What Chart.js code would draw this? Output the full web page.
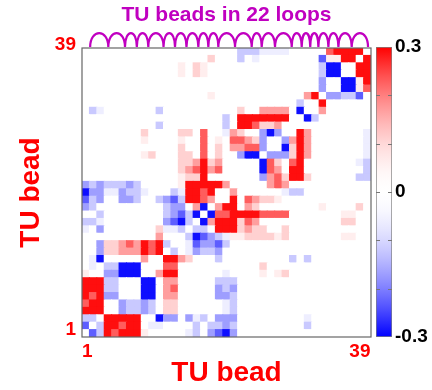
<!DOCTYPE html>
<html>
<head>
<meta charset="utf-8">
<script src="https://cdn.jsdelivr.net/npm/chart.js@4.4.1/dist/chart.umd.min.js"></script>
<style>
  html, body { margin: 0; padding: 0; background: #fff; }
  #wrap { position: relative; width: 432px; height: 390px; overflow: hidden; }
  #heat { position: absolute; left: 0; top: 0; }
  #bar { position: absolute; left: 372px; top: 0; }
</style>
</head>
<body>
<div id="wrap">
  <canvas id="heat" width="432" height="390"></canvas>
  <canvas id="bar" width="60" height="390"></canvas>
</div>
<script>
const titleText = 'TU beads in 22 loops';
const axisText = 'TU bead';
const xTickText = ['1', '39'];
const yTickText = ['1', '39'];
const barTickText = ['-0.3', '0', '0.3'];
const barMinorTicks = [0.2, 0.1, 0, -0.1, -0.2];
const barRange = [-0.3, 0.3];

// bead positions where the loops drawn above the map start/end
const loopEdges = [1.6, 4.05, 6.3, 7.9, 9.45, 11.5, 13.05, 14.6, 16.2, 17.55, 18.9,
  21.15, 23.4, 24.75, 26.55, 28.8, 30.15, 31.3, 32.4, 33.75, 35.1, 36.9, 39.1];

// [bead a, bead b, correlation] (symmetric, unlisted = 0)
const pairs = [
  [1,2,-0.23],[1,3,-0.12],[2,3,-0.12],
  [1,4,0.29],[1,5,0.23],[1,6,0.29],[1,7,0.29],[1,8,0.29],
  [2,4,0.29],[2,5,0.29],[2,6,0.23],[2,7,0.29],[2,8,0.29],
  [3,4,0.29],[3,5,0.29],[3,6,0.29],[3,7,0.29],[3,8,0.29],
  [1,9,0.06],[2,10,-0.06],[2,11,-0.06],
  [3,11,-0.29],[3,12,-0.17],[3,13,-0.17],
  [4,6,-0.17],[5,6,-0.17],[4,7,-0.12],[5,7,-0.12],[4,8,-0.12],[5,8,-0.12],
  [4,9,-0.17],[5,9,-0.17],[4,10,-0.12],[5,10,-0.12],
  [6,9,-0.29],[7,9,-0.29],[8,9,-0.29],[6,10,-0.29],[7,10,-0.29],[8,10,-0.29],
  [4,12,0.11],[5,12,0.11],[6,12,0.17],[7,12,0.17],[8,12,0.17],
  [4,13,0.11],[5,13,0.11],[6,13,0.17],[7,13,0.23],[8,13,0.17],
  [9,11,0.17],[9,12,0.29],[9,13,0.29],[10,12,0.23],[10,13,0.23],[11,12,0.29],[11,13,0.29],[12,13,-0.12],

  [1,15,-0.06],[3,15,-0.17],
  [1,16,-0.12],[2,16,-0.12],[3,16,-0.06],
  [3,17,-0.12],
  [1,18,-0.17],[2,18,-0.12],
  [1,19,-0.23],[2,19,-0.12],[3,19,-0.17],
  [1,20,-0.29],[2,20,-0.17],[3,20,-0.17],
  [1,21,-0.17],[2,21,-0.12],[3,21,-0.17],
  [4,20,-0.06],[5,20,-0.06],[4,21,-0.12],[5,21,-0.12],
  [6,19,-0.17],[7,19,-0.17],[8,19,-0.12],
  [6,20,-0.17],[7,20,-0.12],[8,20,-0.12],
  [6,21,-0.12],[7,21,-0.17],[8,21,-0.12],
  [9,20,-0.06],
  [11,14,0.17],[11,15,0.11],[11,19,-0.12],
  [12,15,-0.06],[12,16,-0.17],[12,17,-0.12],[12,18,-0.12],[12,19,-0.17],
  [13,15,-0.06],[13,16,-0.23],[13,17,-0.17],[13,18,-0.17],[13,19,-0.23],[13,20,-0.12],
  [9,25,0.06],[10,25,0.11],[9,27,0.06],[9,28,0.11],
  [11,29,-0.12],[11,31,-0.12],[2,31,-0.12],[3,31,-0.06],

  [14,15,-0.12],[14,16,-0.29],[14,17,-0.23],[14,18,-0.17],[14,19,-0.12],[14,20,-0.06],
  [14,21,0.06],[14,22,0.06],[14,23,0.11],[14,24,0.11],[14,25,0.11],[14,26,0.11],[14,27,0.06],[14,28,0.11],
  [15,16,-0.12],[15,17,-0.12],
  [15,19,0.29],[15,20,0.29],[15,21,0.29],[15,22,0.11],[15,23,0.17],[15,24,0.11],[15,25,0.11],[15,28,0.11],
  [16,17,-0.29],[16,18,0.17],[16,19,0.29],[16,20,0.29],[16,21,0.29],[16,22,0.11],[16,23,0.23],[16,24,0.17],
  [17,18,-0.29],[17,19,0.23],[17,20,0.23],[17,21,0.29],[17,22,0.29],[17,23,0.29],[17,24,0.29],
  [17,25,0.23],[17,26,0.23],[17,27,0.23],[17,28,0.23],
  [18,19,0.17],[18,20,0.29],[18,21,0.29],[18,23,0.17],[18,24,0.11],
  [19,21,0.29],[19,23,0.23],[19,24,0.17],[19,25,0.11],[19,26,0.11],[19,27,0.06],
  [20,21,0.17],[20,28,-0.06],[20,29,-0.12],[20,30,-0.12],
  [21,26,0.17],[21,27,0.23],[21,28,0.17],
  [22,25,-0.17],[22,26,0.17],[22,27,0.23],[22,28,0.11],[22,29,0.29],[22,30,0.29],[22,31,0.11],
  [23,25,-0.29],[23,26,0.23],[23,27,0.17],[23,29,0.29],[23,30,0.29],
  [24,25,-0.29],[24,26,0.23],[24,27,0.11],[24,29,0.23],[24,30,0.29],
  [25,26,-0.17],[25,27,-0.17],[25,28,-0.17],[25,29,0.11],[25,30,0.29],[25,31,0.17],
  [26,28,-0.29],[26,29,0.11],[26,30,0.29],[26,31,0.17],
  [27,28,-0.17],[27,29,0.17],[27,30,0.29],[27,31,0.17],
  [28,30,0.29],[28,31,0.17],
  [14,36,0.06],[14,37,0.06],[16,36,0.11],[16,37,0.11],[17,36,0.06],[17,37,0.06],[18,33,0.06],[18,38,0.11],
  [22,38,-0.12],[22,39,-0.12],[23,39,-0.12],[24,38,-0.06],[24,39,-0.12],
  [25,39,-0.06],[26,39,-0.06],[27,39,-0.06],[28,39,-0.06],

  [30,31,-0.29],[30,32,-0.12],[31,33,0.17],[32,33,0.29],
  [33,34,-0.17],[33,35,-0.17],[33,36,-0.12],[33,37,-0.12],[33,38,-0.23],
  [34,36,-0.29],[34,37,-0.29],[35,36,-0.29],[35,37,-0.29],
  [34,38,0.06],[35,38,0.06],[34,39,0.23],[35,39,0.29],
  [36,38,0.29],[37,38,0.29],[36,39,0.29],[37,39,0.29],[38,39,0.29]
];

const beads = Array.from({ length: 39 }, (_, i) => i + 1);
const matrix = beads.map(() => beads.map(() => 0));
pairs.forEach(([a, b, v]) => {
  matrix[a - 1][b - 1] = v;
  matrix[b - 1][a - 1] = v;
});

function shade(v) {
  const t = Math.min(1, Math.abs(v) / 0.3);
  const k = Math.round(255 * (1 - Math.pow(t, 1.7)));
  return v >= 0 ? `rgb(255,${k},${k})` : `rgb(${k},${k},255)`;
}

Chart.defaults.font.family = '"Liberation Sans", Arial, sans-serif';

const framePlugin = {
  id: 'frame',
  afterDatasetsDraw(chart) {
    const { ctx, chartArea: a } = chart;
    ctx.save();
    ctx.strokeStyle = '#666';
    ctx.lineWidth = 1.2;
    ctx.strokeRect(a.left, a.top, a.right - a.left, a.bottom - a.top);
    ctx.restore();
  }
};

const loopPlugin = {
  id: 'loops',
  afterDraw(chart) {
    const { ctx, chartArea, scales: { x } } = chart;
    const base = chartArea.top - 1;
    ctx.save();
    ctx.strokeStyle = '#c000c0';
    ctx.lineWidth = 2.2;
    ctx.lineJoin = 'round';
    ctx.beginPath();
    for (let i = 0; i < loopEdges.length - 1; i++) {
      const x1 = x.getPixelForValue(loopEdges[i] - 0.5);
      const x2 = x.getPixelForValue(loopEdges[i + 1] - 0.5);
      ctx.moveTo(x1, base);
      ctx.bezierCurveTo(x1, base - 18.5, x2, base - 18.5, x2, base);
    }
    ctx.stroke();
    ctx.restore();
  }
};

const rows = beads.map(r => ({
  data: beads.map(c => ({ x: c - 0.5, y: [r - 1, r] })),
  backgroundColor: beads.map(c => shade(matrix[r - 1][c - 1])),
  borderWidth: 0,
  inflateAmount: 0.5,
  grouped: false,
  barPercentage: 1,
  categoryPercentage: 1
}));

new Chart(document.getElementById('heat'), {
  type: 'bar',
  data: { datasets: rows },
  options: {
    responsive: false,
    animation: false,
    events: [],
    layout: { padding: { left: 0, right: 61, top: 0, bottom: 0 } },
    plugins: {
      legend: { display: false },
      tooltip: { enabled: false }
    },
    scales: {
      x: {
        type: 'linear', min: 0, max: 39, offset: false,
        grid: { display: false, drawTicks: false },
        border: { display: false },
        afterFit: s => { s.height = 53; },
        afterBuildTicks: s => { s.ticks = [{ value: 0.7 }, { value: 37.5 }]; },
        ticks: {
          autoSkip: false, maxRotation: 0, padding: 3,
          color: '#ff0000', font: { size: 19, weight: 'bold' },
          callback: (v, i) => xTickText[i]
        },
        title: {
          display: true, text: axisText, color: '#ff0000',
          font: { size: 28, weight: 'bold' }, padding: { top: 0, bottom: 0 }
        }
      },
      top: {
        axis: 'x', type: 'linear', position: 'top', min: 0, max: 39,
        grid: { display: false, drawTicks: false },
        border: { display: false },
        ticks: { display: false },
        afterFit: s => { s.height = 48; },
        title: {
          display: true, text: titleText, color: '#c000c0',
          font: { size: 21, weight: 'bold' }, padding: { top: 3, bottom: 0 }
        }
      },
      y: {
        type: 'linear', min: 0, max: 39,
        grid: { display: false, drawTicks: false },
        border: { display: false },
        afterFit: s => { s.width = 82; },
        afterBuildTicks: s => { s.ticks = [{ value: 0.95 }, { value: 39.4 }]; },
        ticks: {
          autoSkip: false, padding: 6,
          color: '#ff0000', font: { size: 19, weight: 'bold' },
          callback: (v, i) => yTickText[i]
        },
        title: {
          display: true, text: axisText, color: '#ff0000',
          font: { size: 28, weight: 'bold' }, padding: { top: 14, bottom: 0 }
        }
      }
    }
  },
  plugins: [framePlugin, loopPlugin]
});

const dashPlugin = {
  id: 'dashes',
  afterDatasetsDraw(chart) {
    const { ctx, chartArea: a, scales: { y } } = chart;
    ctx.save();
    ctx.strokeStyle = '#777';
    ctx.lineWidth = 1;
    barMinorTicks.forEach(v => {
      const py = Math.round(y.getPixelForValue(v)) + 0.5;
      ctx.beginPath();
      ctx.moveTo(a.left, py); ctx.lineTo(a.left + 4, py);
      ctx.moveTo(a.right - 4, py); ctx.lineTo(a.right, py);
      ctx.stroke();
    });
    ctx.restore();
  }
};

function gradientFill(context) {
  const chart = context.chart;
  if (!chart.chartArea) return '#fff';
  const y = chart.scales.y;
  const g = chart.ctx.createLinearGradient(0, y.getPixelForValue(barRange[0]), 0, y.getPixelForValue(barRange[1]));
  for (let i = 0; i <= 30; i++) {
    const v = barRange[0] + (barRange[1] - barRange[0]) * i / 30;
    g.addColorStop(i / 30, shade(v));
  }
  return g;
}

new Chart(document.getElementById('bar'), {
  type: 'bar',
  data: {
    labels: ['scale'],
    datasets: [{
      data: [barRange],
      backgroundColor: gradientFill,
      borderColor: '#808080',
      borderWidth: 1,
      borderSkipped: false,
      barPercentage: 1,
      categoryPercentage: 1
    }]
  },
  options: {
    responsive: false,
    animation: false,
    events: [],
    layout: { padding: { left: 4, right: 0, top: 47, bottom: 53 } },
    plugins: { legend: { display: false }, tooltip: { enabled: false } },
    scales: {
      x: { display: false },
      y: {
        position: 'right', min: barRange[0], max: barRange[1],
        grid: { display: false, drawTicks: false },
        border: { display: false },
        afterFit: s => { s.width = 40; },
        afterBuildTicks: s => { s.ticks = barTickText.map(t => ({ value: Number(t) })); },
        ticks: {
          autoSkip: false, padding: 3, color: '#000',
          font: { size: 19, weight: 'bold' },
          callback: (v, i) => barTickText[i]
        }
      }
    }
  },
  plugins: [dashPlugin]
});
</script>
</body>
</html>
